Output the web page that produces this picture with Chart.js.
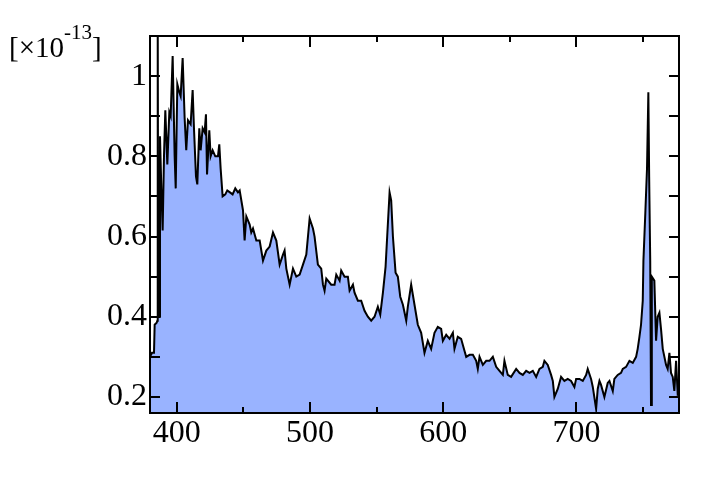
<!DOCTYPE html>
<html>
<head>
<meta charset="utf-8">
<script src="https://cdn.jsdelivr.net/npm/chart.js@4"></script>
<style>
  html, body { margin: 0; padding: 0; background: #fff; }
</style>
</head>
<body>
<canvas id="spectrum" width="715" height="485"></canvas>
<script>
// wavelength (nm) and flux (x 1e-13)
const wavelength = [
  380, 381.5, 383, 383.5, 385, 385.5, 385.8, 386.2, 387, 387.5, 388.5, 389.5, 390.5, 391.5, 393,
  394.5, 395.5, 397, 398.5, 399.3, 400.5, 402, 403, 404.5, 406, 407.2, 408.5, 410.5, 412, 413,
  414.5, 415.5, 417, 418, 419.5, 421, 422, 422.8, 424.5, 425.5, 427, 429, 431, 432, 433,
  434.5, 436.5, 438, 440, 442, 444, 446, 447.3, 449.8, 451, 452.3, 454.8, 456, 457.3, 459.8,
  462.3, 464.8, 467.3, 469.8, 472.3, 474.8, 477.3, 479.8, 481, 482.3, 484.8, 487.3, 489.8, 492.3, 494.8,
  497.3, 499.8, 502.3, 503.5, 506, 508.5, 509.8, 511, 512.3, 516, 518.5, 519.8, 522.3, 523.5, 526,
  528.5, 529.8, 532.3, 533.5, 536, 538.5, 541, 543.5, 546, 548.5, 551, 552.8, 554.8, 556.8, 558,
  559.8, 561, 562.3, 564.3, 566, 567.8, 569.8, 572.3, 573.5, 576, 578.5, 581, 583.5, 586, 588.5,
  591, 593.5, 596, 598.5, 599.8, 602.3, 604.8, 607.3, 608.5, 611, 613.5, 616, 617.3, 619.8, 622.3,
  624.8, 626, 627.3, 629.8, 632.3, 634.8, 637.3, 639.8, 642.3, 644.8, 646, 648.5, 651, 654.8, 657.3,
  659.8, 662.3, 664.8, 667.3, 669.8, 672.3, 674.8, 676, 678.5, 681, 682.3, 683.5, 686, 688.5, 691,
  693.5, 696, 698.5, 699.8, 702.3, 704.8, 707.3, 708.5, 711, 712.3, 714.8, 716, 717.3, 718.5, 721,
  723.5, 724.8, 727.3, 728.5, 731, 733.5, 734.8, 737.3, 739.8, 742.3, 744.8, 746, 747.3, 748.5, 749.8,
  750.3, 751.8, 753, 754, 754.6, 755.4, 756, 756.6, 758.5, 759.8, 761, 762.3, 763.5, 764.8, 767.3,
  768.5, 769.8, 771, 772.3, 773.5, 774.8, 776, 777
];
const flux = [
  0.30, 0.31, 0.31, 0.38, 0.385, 0.39, 1.15, 0.40, 0.40, 0.85, 0.72, 0.615, 0.80, 0.915, 0.78,
  0.91, 0.90, 1.05, 0.80, 0.72, 0.98, 0.96, 0.95, 1.045, 0.895, 0.815, 0.89, 0.88, 0.965, 0.87,
  0.75, 0.73, 0.87, 0.815, 0.87, 0.86, 0.905, 0.755, 0.865, 0.80, 0.815, 0.80, 0.80, 0.83, 0.77,
  0.70, 0.705, 0.715, 0.71, 0.705, 0.72, 0.71, 0.715, 0.665, 0.59, 0.65, 0.63, 0.61, 0.62, 0.59,
  0.59, 0.54, 0.565, 0.575, 0.61, 0.59, 0.53, 0.555, 0.565, 0.52, 0.48, 0.52, 0.50, 0.505, 0.53,
  0.555, 0.645, 0.62, 0.60, 0.53, 0.52, 0.48, 0.465, 0.495, 0.48, 0.48, 0.505, 0.49, 0.515, 0.50,
  0.50, 0.465, 0.48, 0.46, 0.44, 0.44, 0.415, 0.40, 0.39, 0.40, 0.425, 0.405, 0.46, 0.525, 0.60,
  0.71, 0.69, 0.60, 0.51, 0.50, 0.45, 0.43, 0.39, 0.425, 0.48, 0.43, 0.38, 0.36, 0.31, 0.34,
  0.32, 0.36, 0.375, 0.37, 0.34, 0.355, 0.345, 0.36, 0.32, 0.35, 0.345, 0.315, 0.30, 0.305, 0.305,
  0.29, 0.27, 0.30, 0.28, 0.29, 0.29, 0.30, 0.275, 0.265, 0.255, 0.29, 0.255, 0.25, 0.27, 0.26,
  0.255, 0.265, 0.26, 0.265, 0.25, 0.27, 0.275, 0.29, 0.28, 0.255, 0.24, 0.20, 0.22, 0.25, 0.24,
  0.245, 0.24, 0.225, 0.245, 0.245, 0.24, 0.255, 0.27, 0.245, 0.225, 0.17, 0.22, 0.24, 0.23, 0.20,
  0.235, 0.24, 0.215, 0.245, 0.255, 0.26, 0.27, 0.275, 0.29, 0.285, 0.30, 0.32, 0.35, 0.38, 0.44,
  0.54, 0.665, 0.77, 0.96, 0.75, 0.54, 0.18, 0.50, 0.49, 0.34, 0.40, 0.41, 0.37, 0.32, 0.28,
  0.27, 0.31, 0.26, 0.25, 0.215, 0.29, 0.21, 0.22
];

const xMajor = [400, 500, 600, 700];
const xMinor = [450, 550, 650, 750];
const yMajor = [0.2, 0.4, 0.6, 0.8, 1];
const yMinor = [0.3, 0.5, 0.7, 0.9];

const serif = "'Liberation Serif', 'Times New Roman', serif";

// frame, inward ticks on all four sides, and the unit label
const frameTicks = {
  id: "frameTicks",
  afterDraw(chart) {
    const { ctx, chartArea: a, scales } = chart;
    const xs = scales.x, ys = scales.y;
    ctx.save();
    ctx.strokeStyle = "#000";
    ctx.lineWidth = 2;
    ctx.beginPath();
    const tickX = (v, len) => {
      const px = Math.round(xs.getPixelForValue(v));
      ctx.moveTo(px, a.bottom); ctx.lineTo(px, a.bottom - len);
      ctx.moveTo(px, a.top); ctx.lineTo(px, a.top + len);
    };
    const tickY = (v, len) => {
      const py = Math.round(ys.getPixelForValue(v));
      ctx.moveTo(a.left, py); ctx.lineTo(a.left + len, py);
      ctx.moveTo(a.right, py); ctx.lineTo(a.right - len, py);
    };
    xMajor.forEach((v) => tickX(v, 11));
    xMinor.forEach((v) => tickX(v, 6));
    yMajor.forEach((v) => tickY(v, 10));
    yMinor.forEach((v) => tickY(v, 10));
    ctx.stroke();
    ctx.strokeRect(a.left, a.top, a.right - a.left, a.bottom - a.top);

    // [x10^-13]
    ctx.fillStyle = "#000";
    ctx.textBaseline = "alphabetic";
    ctx.textAlign = "left";
    let x = 9;
    ctx.font = "29px " + serif;
    ctx.fillText("[\u00d710", x, 57);
    x += ctx.measureText("[\u00d710").width;
    ctx.font = "21px " + serif;
    ctx.fillText("-13", x, 39);
    x += ctx.measureText("-13").width;
    ctx.font = "29px " + serif;
    ctx.fillText("]", x, 57);
    ctx.restore();
  },
};

const points = wavelength.map((w, i) => ({ x: w, y: flux[i] }));

new Chart(document.getElementById("spectrum"), {
  type: "line",
  data: {
    datasets: [
      {
        data: points,
        borderColor: "#000",
        borderWidth: 2,
        backgroundColor: "rgb(153,179,255)",
        fill: "start",
        pointRadius: 0,
        tension: 0,
      },
    ],
  },
  options: {
    responsive: false,
    animation: false,
    layout: { padding: { top: 36, right: 36, left: 0, bottom: 0 } },
    plugins: { legend: { display: false }, tooltip: { enabled: false } },
    scales: {
      x: {
        type: "linear",
        min: 380,
        max: 777,
        grid: { display: false, drawTicks: false },
        border: { display: false },
        afterBuildTicks: (s) => { s.ticks = xMajor.map((v) => ({ value: v })); },
        afterFit: (s) => { s.height = 72; },
        ticks: {
          font: { family: serif, size: 32 },
          color: "#000",
          padding: 1,
          maxRotation: 0,
          autoSkip: false,
        },
      },
      y: {
        min: 0.16,
        max: 1.1,
        grid: { display: false, drawTicks: false },
        border: { display: false },
        afterBuildTicks: (s) => { s.ticks = yMajor.map((v) => ({ value: v })); },
        afterFit: (s) => { s.width = 150; },
        ticks: {
          font: { family: serif, size: 32 },
          color: "#000",
          padding: 3,
          callback: (v) => String(v),
        },
      },
    },
  },
  plugins: [frameTicks],
});
</script>
</body>
</html>
